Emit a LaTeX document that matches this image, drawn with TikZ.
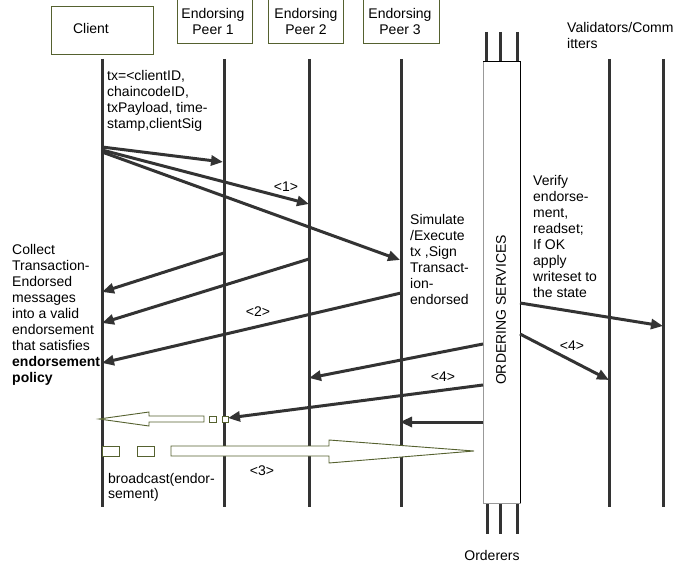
\documentclass[tikz,border=0pt]{standalone}
\usepackage{fontspec}
\setmainfont{Liberation Sans}
\usetikzlibrary{arrows.meta}
\definecolor{ln}{HTML}{333333}
\definecolor{olive}{HTML}{55612F}
\tikzset{
  lbl/.style={inner sep=0pt, font=\fontsize{14}{16}\selectfont},
  txt/.style={lbl, anchor=north west, align=left},
  peerbox/.style={draw=olive, line width=1pt, fill=white},
  life/.style={draw=ln, line width=3pt},
  msg/.style={draw=ln, line width=3pt, -{Triangle[length=12pt,width=10pt]}},
  hollow/.style={draw=olive, line width=0.9pt, fill=white},
}
\begin{document}
\begin{tikzpicture}[x=1pt,y=-1pt]
\useasboundingbox (0,0) rectangle (675,567);
\clip (0,0) rectangle (675,567);
% header boxes
\draw[peerbox] (51,7) rectangle (153,55);
\node[lbl] (client) at (91,28) {Client};
\draw[peerbox] (177,-5) rectangle (252,44);
\node[lbl, align=center] (peer1) at (213,21) {Endorsing\\Peer 1};
\draw[peerbox] (268,-5) rectangle (343,44);
\node[lbl, align=center] (peer2) at (306,21) {Endorsing\\Peer 2};
\draw[peerbox] (363,-5) rectangle (439,44);
\node[lbl, align=center] (peer3) at (400,21) {Endorsing\\Peer 3};
\node[txt] (valid) at (567,21) {\strut Validators/Comm\\itters};
% lifelines
\foreach \x/\n in {102/lc,224/l1,309/l2,401/l3,609/lv1,663/lv2}{
  \coordinate (\n t) at (\x,59);
  \coordinate (\n b) at (\x,507);
  \draw[life] (\n t) -- (\n b);
}
% ordering service
\foreach \x/\n in {486/a,500/b,517/c}{
  \coordinate (ot\n) at (\x,32); \coordinate (ob\n) at (\x,62);
  \draw[life] (ot\n) -- (ob\n);
}
\foreach \x/\n in {487/a,500/b,517/c}{
  \coordinate (bt\n) at (\x,503); \coordinate (bb\n) at (\x,534);
  \draw[life] (bt\n) -- (bb\n);
}
\draw[draw=gray!80, line width=1pt, fill=white] (483,62) rectangle (520,503);
\draw[black, line width=1pt] (483,62) -- (520,62) -- (520,503);
\node[lbl, rotate=90] (ord) at (501,310) {ORDERING SERVICES};
\node[lbl] (orderers) at (492,555) {Orderers};
% texts
\node[txt] (tx) at (107,69) {\strut tx=<clientID,\\chaincodeID,\\txPayload, time-\\stamp,clientSig};
\node[txt] (collect) at (12,243) {\strut Collect\\Transaction-\\Endorsed\\messages\\into a valid\\endorsement\\that satisfies\\\textbf{endorsement}\\\textbf{policy}};
\node[txt] (sim) at (410,213) {\strut Simulate\\/Execute\\tx ,Sign\\Transact-\\ion-\\endorsed};
\node[txt] (ver) at (533,174) {\strut Verify\\endorse-\\ment,\\readset;\\If OK\\apply\\writeset to\\the state};
\node[txt, font=\fontsize{14}{15}\selectfont] (bc) at (108,473) {\strut broadcast(endor-\\sement)};
\node[lbl] (m1) at (286,187) {<1>};
\node[lbl] (m2) at (258,312) {<2>};
\node[lbl] (m4a) at (443,377) {<4>};
\node[lbl] (m4b) at (572,346) {<4>};
\node[lbl] (m3) at (262,471) {<3>};
% messages <1>
\coordinate (s1) at (102,147); \coordinate (e1) at (223,162);
\coordinate (s2) at (102,150); \coordinate (e2) at (309,204);
\coordinate (s3) at (102,152); \coordinate (e3) at (400,260);
\draw[msg] (s1) -- (e1);
\draw[msg] (s2) -- (e2);
\draw[msg] (s3) -- (e3);
% messages <2>
\coordinate (r1s) at (224,253); \coordinate (r1e) at (102,292);
\coordinate (r2s) at (309,259); \coordinate (r2e) at (102,323);
\coordinate (r3s) at (401,293); \coordinate (r3e) at (102,363);
\draw[msg] (r1s) -- (r1e);
\draw[msg] (r2s) -- (r2e);
\draw[msg] (r3s) -- (r3e);
% messages <4>
\coordinate (o1s) at (483,344); \coordinate (o1e) at (309,378);
\coordinate (o2s) at (483,385); \coordinate (o2e) at (228,418);
\coordinate (o3s) at (483,422); \coordinate (o3e) at (400,422);
\coordinate (v1s) at (520,303); \coordinate (v1e) at (663,326);
\coordinate (v2s) at (520,334); \coordinate (v2e) at (609,380);
\draw[msg] (o1s) -- (o1e);
\draw[msg] (o3s) -- (o3e);
\draw[msg] (v1s) -- (v1e);
\draw[msg] (v2s) -- (v2e);
% hollow dashed arrow to client
\draw[hollow] (99,419) -- (149,412) -- (149,416) -- (204,416) -- (204,422) -- (149,422) -- (149,426) -- cycle;
\draw[hollow] (209,416) rectangle (216,422);
\draw[hollow] (222,416) rectangle (228,422);
\draw[msg] (o2s) -- (o2e);
% hollow dashed arrow <3>
\draw[hollow] (102,446) rectangle (119,456);
\draw[hollow] (137,446) rectangle (154,456);
\draw[hollow] (171,446) -- (329,446) -- (329,440) -- (474,451) -- (329,463) -- (329,456) -- (171,456) -- cycle;
\end{tikzpicture}
\end{document}
